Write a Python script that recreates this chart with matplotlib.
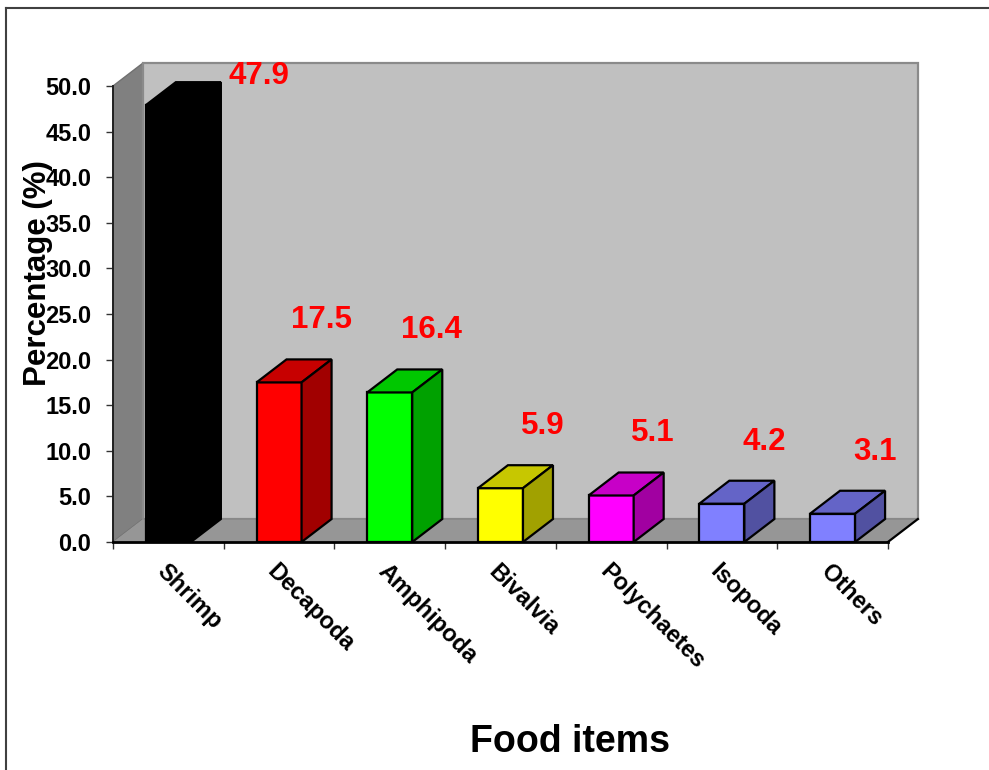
import numpy as np
import matplotlib
matplotlib.use("Agg")
import matplotlib.pyplot as plt
from matplotlib.colors import to_rgb
from matplotlib.lines import Line2D

plt.rcParams['font.family'] = ['Liberation Sans', 'DejaVu Sans']
plt.rcParams['font.weight'] = 'bold'

# data
categories = ['Shrimp', 'Decapoda', 'Amphipoda', 'Bivalvia', 'Polychaetes', 'Isopoda', 'Others']
values = [47.9, 17.5, 16.4, 5.9, 5.1, 4.2, 3.1]
value_labels = ['47.9', '17.5', '16.4', '5.9', '5.1', '4.2', '3.1']
yticks = [0, 5, 10, 15, 20, 25, 30, 35, 40, 45, 50]

front_colors = ['#000000', '#FF0000', '#00FF00', '#FFFF00', '#FF00FF', '#8080FF', '#8080FF']

W, H = 989, 770
fig = plt.figure(figsize=(W / 100, H / 100), dpi=100)

ncat = len(categories)
ymax = 50
# depth offsets of the pseudo 3d projection (data units)
dx, dy = 0.271, 2.52
bw = 0.407
gap = (1 - bw) / 2

ax = fig.add_axes([113 / W, 228 / H, 7.35 * 110.7 / W, 53 * 9.12 / H])
ax.set_xlim(0, 7.35)
ax.set_ylim(0, 53)

# walls and floor
ax.fill([0, 0, dx, dx], [0, ymax, ymax + dy, dy], color='#808080', ec='#707070', lw=1, zorder=1)
ax.fill([dx, dx, ncat + dx, ncat + dx], [dy, ymax + dy, ymax + dy, dy],
        color='#C0C0C0', ec='#8a8a8a', lw=1.6, zorder=1)
ax.fill([0, ncat, ncat + dx, dx], [0, 0, dy, dy], color='#969696', ec='none', zorder=2)
ax.plot([dx, ncat + dx], [dy, dy], color='#888888', lw=1.2, zorder=2)
ax.plot([ncat, ncat + dx], [0, dy], color='black', lw=1.6, zorder=2, clip_on=False)


def shade(c, f):
    r, g, b = to_rgb(c)
    return (r * f, g * f, b * f)


for i, (v, c) in enumerate(zip(values, front_colors)):
    x0 = i + gap
    x1 = x0 + bw
    ec = 'black'
    ax.fill([x0, x1, x1, x0], [0, 0, v, v], color=c, ec=ec, lw=1.6, zorder=3 + i)
    ax.fill([x0, x1, x1 + dx, x0 + dx], [v, v, v + dy, v + dy], color=shade(c, 0.78),
            ec=ec, lw=1.6, zorder=3 + i)
    ax.fill([x1, x1 + dx, x1 + dx, x1], [0, dy, v + dy, v], color=shade(c, 0.63),
            ec=ec, lw=1.6, zorder=3 + i)
    # value labels
    lx, ly = i + 0.5 + 0.38, v + 6.8
    if ly > ymax:
        lx, ly = i + 0.5 + 0.82, v + 3.2
    ax.text(lx, ly, value_labels[i], color='#FF0000', fontsize=22.5, fontweight='bold',
            ha='center', va='center', zorder=20)

# axes
for s in ['top', 'right']:
    ax.spines[s].set_visible(False)
ax.spines['left'].set_bounds(0, ymax)
ax.spines['left'].set_color('#202020')
ax.spines['left'].set_linewidth(1.4)
ax.spines['bottom'].set_bounds(0, ncat)
ax.spines['bottom'].set_color('black')
ax.spines['bottom'].set_linewidth(2)
ax.spines['bottom'].set_zorder(15)

ax.set_yticks(yticks)
ax.set_yticklabels([f'{t:.1f}' for t in yticks], fontsize=17, fontweight='bold')
ax.tick_params(axis='y', direction='out', length=5, width=1, color='#333333', pad=10.5)

ax.set_xticks(np.arange(ncat + 1))
ax.set_xticklabels([])
ax.set_xticks(np.arange(ncat) + 0.5, minor=True)
ax.set_xticklabels(categories, minor=True, fontsize=17, fontweight='bold',
                   rotation=-45, ha='left', va='top', rotation_mode='anchor')
ax.tick_params(axis='x', which='major', direction='out', length=5, width=1, color='#333333')
ax.tick_params(axis='x', which='minor', length=0, pad=13)

fig.text(38 / W, 1 - 273 / H, 'Percentage (%)', rotation=90, fontsize=22.5,
         fontweight='bold', ha='center', va='center')
fig.text(570 / W, 1 - 752 / H, 'Food items', fontsize=27, fontweight='bold',
         ha='center', va='baseline')

# outer frame (top and left edges visible)
fig.add_artist(Line2D([6 / W, 6 / W], [0, 1 - 8 / H], transform=fig.transFigure,
                      color='#404040', lw=1.5))
fig.add_artist(Line2D([6 / W, 1], [1 - 8 / H, 1 - 8 / H], transform=fig.transFigure,
                      color='#404040', lw=1.5))

fig.savefig('out.png', dpi=100)
